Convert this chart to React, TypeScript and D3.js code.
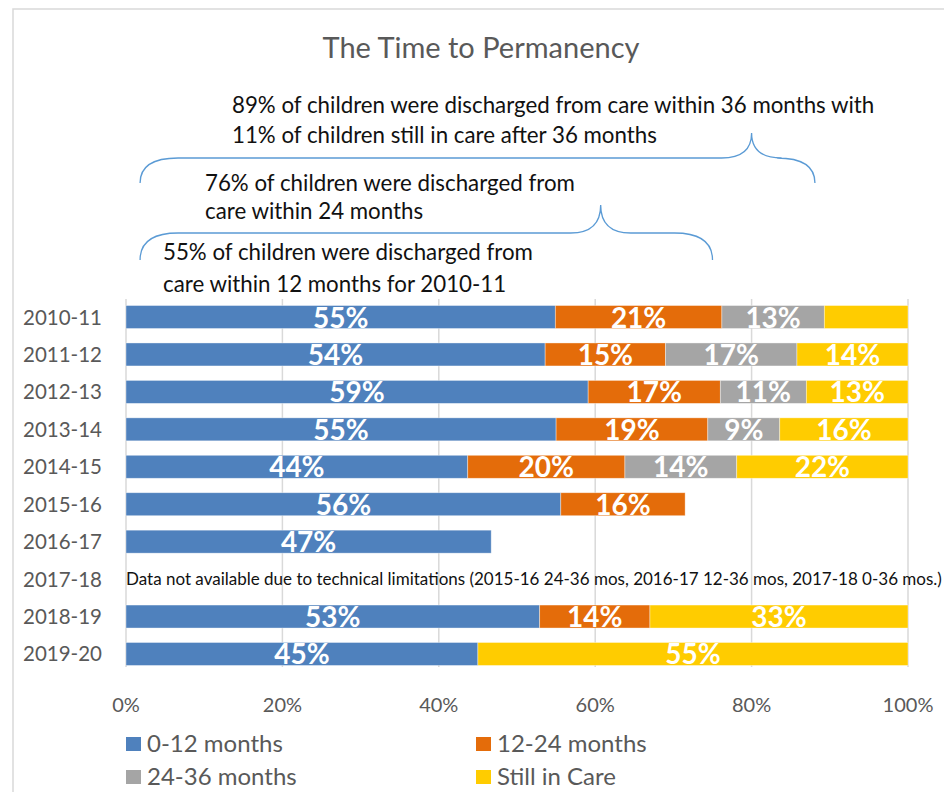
import * as d3 from "d3";

const years = ["2010-11", "2011-12", "2012-13", "2013-14", "2014-15", "2015-16", "2016-17", "2017-18", "2018-19", "2019-20"];
const seriesNames = ["0-12 months", "12-24 months", "24-36 months", "Still in Care"];
const seriesColors = ["#4F81BD", "#E46C0A", "#A5A5A5", "#FFCC00"];

// percent of children per year (null = not available)
const months0to12 = [54.9, 53.6, 59.1, 55.0, 43.7, 55.6, 46.7, null, 52.9, 45.0];
const months12to24 = [21.3, 15.4, 16.9, 19.4, 20.1, 15.9, null, null, 14.1, null];
const months24to36 = [13.1, 16.8, 11.0, 9.2, 14.3, null, null, null, null, null];
const stillInCare = [10.7, 14.2, 13.0, 16.4, 21.9, null, null, null, 33.0, 55.0];
const hiddenLabels = ["2010-11|Still in Care"];

const xTicks = [0, 20, 40, 60, 80, 100];

const title = "The Time to Permanency";
const noteYear = "2017-18";
const noteText = "Data not available due to technical limitations (2015-16 24-36 mos, 2016-17 12-36 mos, 2017-18 0-36 mos.)";
const note36 = ["89% of children were discharged from care within 36 months with", "11% of children still in care after 36 months"];
const note24 = ["76% of children were discharged from", "care within 24 months"];
const note12 = ["55% of children were discharged from", "care within 12 months for 2010-11"];

const FONT = "Lato, 'Open Sans', sans-serif";
const W = 944;
const H = 792;

// curly brace opening downward, tip pointing up
function brace(x0: number, x1: number, xt: number, yb: number, ym: number, yt: number) {
  const r = 38;
  const r2 = 30;
  return `M${x0},${yb} Q${x0},${ym} ${x0 + r},${ym} L${xt - r2},${ym} Q${xt},${ym} ${xt},${yt} ` +
    `Q${xt},${ym} ${xt + r2},${ym} L${x1 - r},${ym} Q${x1},${ym} ${x1},${yb}`;
}

export default function App() {
  const x = d3.scaleLinear().domain([0, 100]).range([126, 908]);
  const y = d3.scaleBand().domain(years).range([298.3, 672.7]).paddingInner(0.386).paddingOuter(0.193);

  const table = years.map((yr, i) => ({
    year: yr,
    [seriesNames[0]]: months0to12[i] ?? 0,
    [seriesNames[1]]: months12to24[i] ?? 0,
    [seriesNames[2]]: months24to36[i] ?? 0,
    [seriesNames[3]]: stillInCare[i] ?? 0,
  }));
  const stacked = d3.stack<any>().keys(seriesNames)(table);

  const bh = y.bandwidth();

  return (
    <svg width={W} height={H} style={{ position: "absolute", left: 0, top: 0, background: "#fff" }} fontFamily={FONT}>
      <rect x={13} y={9} width={W + 20} height={H + 20} fill="#fff" stroke="#d9d9d9" strokeWidth={1.5} />

      <text x={481} y={58} textAnchor="middle" fontSize={29} fill="#595959">{title}</text>

      {/* annotations */}
      <g fontSize={22.3} fill="#111">
        <text x={232} y={113}>{note36[0]}</text>
        <text x={232} y={143}>{note36[1]}</text>
        <text x={205} y={191}>{note24[0]}</text>
        <text x={205} y={219}>{note24[1]}</text>
        <text x={163} y={260}>{note12[0]}</text>
        <text x={163} y={292}>{note12[1]}</text>
      </g>
      <g fill="none" stroke="#5B9BD5" strokeWidth={1.3}>
        <path d={brace(x(1.8), x(88.1), x(80), 183, 158, 133)} />
        <path d={brace(x(1.8), x(75), x(60.7), 260, 233, 205)} />
      </g>

      {/* gridlines */}
      <g stroke="#d9d9d9" strokeWidth={1.5}>
        {xTicks.map((t) => (
          <line key={t} x1={x(t)} x2={x(t)} y1={299} y2={667} />
        ))}
      </g>

      {/* bars */}
      {stacked.map((s, si) => (
        <g key={s.key} fill={seriesColors[si]}>
          {s.map((d, i) => {
            const w = x(d[1]) - x(d[0]);
            if (w <= 0) return null;
            return (
              <rect key={i} x={x(d[0])} y={y(years[i])!} width={w} height={bh}
                stroke="#fff" strokeOpacity={0.5} strokeWidth={0.75} />
            );
          })}
        </g>
      ))}

      {/* data labels */}
      <g fontSize={28} fontWeight={700} fill="#fff" textAnchor="middle">
        {stacked.map((s) =>
          s.map((d, i) => {
            const v = d[1] - d[0];
            if (v <= 0 || hiddenLabels.includes(`${years[i]}|${s.key}`)) return null;
            return (
              <text key={`${s.key}-${i}`} x={(x(d[0]) + x(d[1])) / 2} y={y(years[i])! + bh / 2 + 10.5}>
                {`${Math.round(v)}%`}
              </text>
            );
          })
        )}
      </g>

      {/* y axis labels */}
      <g fontSize={20.5} fill="#595959" textAnchor="end">
        {years.map((yr) => (
          <text key={yr} x={102} y={y(yr)! + bh / 2 + 7.5}>{yr}</text>
        ))}
      </g>

      <text x={x(0)} y={y(noteYear)! + bh / 2 + 5.5} fontSize={17} fill="#111">{noteText}</text>

      {/* x axis labels */}
      <g fontSize={20} fill="#595959" textAnchor="middle">
        {xTicks.map((t) => (
          <text key={t} x={x(t)} y={712}>{`${t}%`}</text>
        ))}
      </g>

      {/* legend */}
      <g fontSize={24} fill="#595959">
        {seriesNames.map((name, i) => {
          const lx = i % 2 === 0 ? 126 : 476;
          const ly = i < 2 ? 752 : 785;
          return (
            <g key={name}>
              <rect x={lx} y={ly - 15} width={15} height={14} fill={seriesColors[i]} />
              <text x={lx + 21} y={ly}>{name}</text>
            </g>
          );
        })}
      </g>
    </svg>
  );
}
